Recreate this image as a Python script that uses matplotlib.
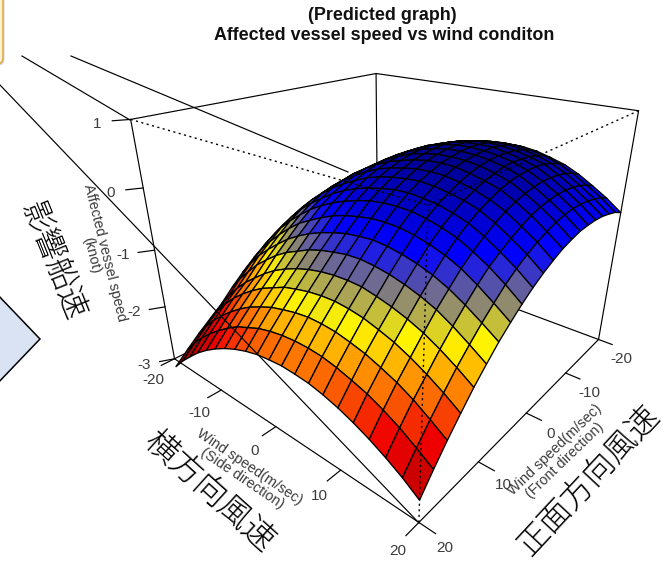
import numpy as np
import matplotlib
matplotlib.use('Agg')
import matplotlib.pyplot as plt
from matplotlib.collections import PolyCollection
from matplotlib.colors import LinearSegmentedColormap, Normalize
from matplotlib.patches import FancyBboxPatch, Polygon
from matplotlib.transforms import ScaledTranslation

side_speed = [-20, -18, -16, -14, -12, -10, -8, -6, -4, -2, 0, 2, 4, 6, 8, 10, 12, 14, 16, 18, 20]
front_speed = [-20, -18, -16, -14, -12, -10, -8, -6, -4, -2, 0, 2, 4, 6, 8, 10, 12, 14, 16, 18, 20]

# affected vessel speed in knots, one row per front speed
vessel_speed = np.array([
    [-1.57, -1.30, -1.05, -.83, -.63, -.46, -.30, -.18, -.07, .01, .08, .12, .13, .13, .10, .04, -.03, -.14, -.28, -.43, -.61],
    [-1.54, -1.26, -1.01, -.78, -.57, -.39, -.23, -.11, .01, .09, .15, .19, .21, .21, .18, .13, .05, -.06, -.20, -.35, -.53],
    [-1.52, -1.24, -.98, -.74, -.53, -.35, -.19, -.05, .06, .15, .21, .25, .27, .27, .24, .19, .11, .00, -.14, -.30, -.48],
    [-1.49, -1.20, -.94, -.70, -.49, -.31, -.14, -.01, .10, .19, .26, .30, .32, .31, .28, .23, .16, .04, -.10, -.26, -.44],
    [-1.43, -1.15, -.89, -.66, -.45, -.26, -.11, .03, .14, .22, .29, .33, .34, .34, .30, .25, .18, .06, -.08, -.24, -.42],
    [-1.40, -1.12, -.86, -.63, -.42, -.24, -.09, .04, .15, .24, .30, .34, .35, .34, .31, .26, .18, .07, -.07, -.23, -.42],
    [-1.39, -1.11, -.85, -.62, -.42, -.24, -.09, .04, .15, .23, .29, .33, .34, .33, .30, .25, .17, .05, -.09, -.25, -.43],
    [-1.40, -1.12, -.87, -.64, -.44, -.26, -.11, .02, .12, .21, .26, .30, .31, .30, .27, .21, .14, .02, -.12, -.28, -.47],
    [-1.32, -1.07, -.83, -.63, -.44, -.27, -.13, -.01, .09, .16, .22, .26, .27, .26, .22, .16, .09, -.03, -.17, -.34, -.52],
    [-1.35, -1.10, -.87, -.66, -.48, -.32, -.19, -.07, .03, .10, .15, .19, .20, .19, .15, .09, .01, -.10, -.25, -.41, -.60],
    [-1.40, -1.15, -.92, -.72, -.55, -.39, -.26, -.15, -.05, .02, .07, .10, .12, .10, .06, .01, -.07, -.19, -.34, -.50, -.69],
    [-1.49, -1.25, -1.02, -.82, -.65, -.50, -.36, -.25, -.16, -.09, -.04, .00, .01, -.01, -.04, -.10, -.18, -.30, -.45, -.61, -.80],
    [-1.63, -1.38, -1.15, -.95, -.78, -.62, -.49, -.38, -.29, -.22, -.16, -.13, -.12, -.13, -.17, -.23, -.31, -.43, -.57, -.74, -.93],
    [-1.79, -1.54, -1.32, -1.12, -.94, -.78, -.66, -.55, -.45, -.38, -.33, -.29, -.28, -.29, -.33, -.39, -.47, -.58, -.73, -.90, -1.08],
    [-1.97, -1.72, -1.49, -1.30, -1.13, -.97, -.84, -.73, -.64, -.57, -.51, -.48, -.46, -.48, -.52, -.58, -.66, -.77, -.91, -1.07, -1.24],
    [-2.17, -1.92, -1.70, -1.49, -1.32, -1.16, -1.03, -.93, -.83, -.76, -.71, -.67, -.66, -.68, -.72, -.78, -.86, -.96, -1.10, -1.26, -1.43],
    [-2.39, -2.14, -1.91, -1.71, -1.54, -1.38, -1.24, -1.13, -1.04, -.97, -.92, -.89, -.88, -.89, -.94, -1.00, -1.08, -1.18, -1.31, -1.46, -1.63],
    [-2.57, -2.32, -2.09, -1.89, -1.72, -1.57, -1.44, -1.34, -1.24, -1.18, -1.13, -1.10, -1.09, -1.11, -1.15, -1.22, -1.30, -1.41, -1.54, -1.69, -1.86],
    [-2.75, -2.51, -2.29, -2.10, -1.93, -1.78, -1.65, -1.55, -1.46, -1.40, -1.35, -1.32, -1.32, -1.34, -1.39, -1.45, -1.54, -1.64, -1.77, -1.93, -2.10],
    [-2.95, -2.71, -2.50, -2.31, -2.15, -2.00, -1.87, -1.78, -1.69, -1.63, -1.59, -1.57, -1.57, -1.59, -1.64, -1.71, -1.79, -1.90, -2.03, -2.19, -2.36],
    [-3.16, -2.93, -2.73, -2.54, -2.38, -2.24, -2.12, -2.02, -1.94, -1.88, -1.85, -1.83, -1.84, -1.86, -1.91, -1.98, -2.07, -2.18, -2.31, -2.46, -2.64],
])

z_ticks = [-3, -2, -1, 0, 1]
side_ticks = [-20, -10, 0, 10, 20]
front_ticks = [-20, -10, 0, 10, 20]

# persp() style view matrix, takes (side, front, speed) to picture pixels
camera = np.array([[3.3999755, -9.2644958, -18.3540888, 392.2983955],
                   [0.3185498, 0.3570086, -72.1590585, 181.6901212],
                   [-0.0081011, -0.0095658, -0.0471038, 1.0]])


def project(s, f, z):
    s, f, z = np.broadcast_arrays(np.asarray(s, float), np.asarray(f, float), np.asarray(z, float))
    h = camera @ np.array([s.ravel(), f.ravel(), z.ravel(), np.ones(s.size)])
    return np.column_stack([h[0] / h[2], h[1] / h[2]]).reshape(s.shape + (2,)), h[2].reshape(s.shape)


def edge(ax, a, b, **kw):
    p, _ = project([a[0], b[0]], [a[1], b[1]], [a[2], b[2]])
    ax.plot(p[:, 0], p[:, 1], color='black', solid_capstyle='round', **kw)


plt.rcParams['font.family'] = ['Liberation Sans', 'DejaVu Sans']
fig = plt.figure(figsize=(6.67, 5.67), dpi=100)
ax = fig.add_axes([0, 0, 1, 1])
ax.set_xlim(0, 667)
ax.set_ylim(567, 0)
ax.axis('off')

lw = 0.85
lo, hi = -3, 1
a = -20
b = 20

# slide shapes behind the chart
ax.add_patch(Polygon([(-5, 292), (40, 339), (-5, 386)], facecolor='#dae3f3', edgecolor='black', lw=1.1, zorder=1))
shadow = ax.transData + ScaledTranslation(1.5 / 100, -1.5 / 100, fig.dpi_scale_trans)
ax.add_patch(FancyBboxPatch((-20, -20), 23, 84, boxstyle='round,pad=0,rounding_size=6', facecolor='#d9d9d9', edgecolor='none', zorder=1, transform=shadow))
ax.add_patch(FancyBboxPatch((-20, -20), 23, 84, boxstyle='round,pad=0,rounding_size=6', facecolor='#fff2cc', edgecolor='#dcae55', lw=1.2, zorder=2))
ax.plot([22, 130], [56, 120], color='black', lw=lw, zorder=1)
ax.plot([71, 348], [56, 172], color='black', lw=lw, zorder=1)

# back of the box
for p, q in [((a, a, lo), (b, a, lo)), ((a, a, lo), (a, b, lo)), ((a, a, lo), (a, a, hi)),
             ((a, b, hi), (a, a, hi)), ((a, a, hi), (b, a, hi)), ((a, b, lo), (a, b, hi)), ((b, a, lo), (b, a, hi))]:
    edge(ax, p, q, lw=lw, zorder=2)

# surface, far facets first
ramp_z = [-3.1, -2.43, -2.14, -1.66, -1.25, -0.47, 0.3]
ramp_colors = ['#780000', '#cc0000', '#f00000', '#ff8200', '#fff500', '#0000ff', '#00008c']
norm = Normalize(ramp_z[0], ramp_z[-1])
cmap = LinearSegmentedColormap.from_list('speed', [(norm(z), c) for z, c in zip(ramp_z, ramp_colors)])
S, F = np.meshgrid(side_speed, front_speed)
xy, w = project(S, F, vessel_speed)
polys = []
depth = []
levels = []
for i in range(len(front_speed) - 1):
    for j in range(len(side_speed) - 1):
        polys.append([xy[i, j], xy[i, j + 1], xy[i + 1, j + 1], xy[i + 1, j]])
        depth.append(w[i:i + 2, j:j + 2].mean())
        levels.append(vessel_speed[i:i + 2, j:j + 2].mean())
order = np.argsort(depth)[::-1]
ax.add_collection(PolyCollection([polys[k] for k in order], facecolors=cmap(norm(np.array(levels)[order])),
                                 edgecolors='black', linewidths=0.95, zorder=3))

# front of the box, dotted where it would hide the surface
for p, q in [((a, b, hi), (b, b, hi)), ((b, a, hi), (b, b, hi)), ((b, b, lo), (b, b, hi))]:
    edge(ax, p, q, lw=1.0, ls=(0, (1.5, 2.5)), zorder=4)
for p, q in [((a, b, lo), (b, b, lo)), ((b, a, lo), (b, b, lo))]:
    edge(ax, p, q, lw=lw, zorder=4)
ax.plot([0, 419], [85, 523], color='black', lw=lw, zorder=4)

tick_kw = dict(color='#3c3c3c', fontsize=11, ha='center', va='center', zorder=5)
for t in side_ticks:
    p, _ = project([t, t], [20, 21.9], [lo, lo])
    ax.plot(p[:, 0], p[:, 1], color='black', lw=lw, zorder=4)
    ax.text(p[1, 0] - 8, p[1, 1] + 15, str(t), **tick_kw)
for t in front_ticks:
    p, _ = project([20, 21.9], [t, t], [lo, lo])
    ax.plot(p[:, 0], p[:, 1], color='black', lw=lw, zorder=4)
    ax.text(p[1, 0] + 9, p[1, 1] + 14, str(t), **tick_kw)
for t in z_ticks:
    p, _ = project([-20, -20.9], [20, 21.6], [t, t])
    ax.plot(p[:, 0], p[:, 1], color='black', lw=lw, zorder=4)
    ax.text(p[1, 0] - 15, p[1, 1] + 3, str(t), **tick_kw)

label_kw = dict(color='#3c3c3c', fontsize=10.4, ha='center', va='center', rotation_mode='anchor', linespacing=1.0, zorder=5)
ax.text(246, 473, 'Wind speed(m/sec)\n(Side direction)', rotation=-34, **label_kw)
ax.text(560, 455, 'Wind speed(m/sec)\n(Front direction)', rotation=44, **label_kw)
ax.text(98, 254, 'Affected vessel speed\n(knot)', rotation=-76, **label_kw)

ax.text(382, 15, '(Predicted graph)', fontsize=12.9, fontweight='bold', ha='center', va='center', color='#111111')
ax.text(384, 35, 'Affected vessel speed vs wind conditon', fontsize=12.9, fontweight='bold', ha='center', va='center', color='#111111')

cjk_kw = dict(family=['Noto Sans CJK JP', 'DejaVu Sans'], fontweight='light', color='black', ha='center', va='center', rotation_mode='anchor', zorder=5)
ax.text(53, 261, '影響船速', rotation=-68, fontsize=22.5, **cjk_kw)
ax.text(208, 492, '横方向風速', rotation=-42, fontsize=23.5, **cjk_kw)
ax.text(589, 481, '正面方向風速', rotation=47, fontsize=23, **cjk_kw)

fig.savefig('out.png', dpi=100)
